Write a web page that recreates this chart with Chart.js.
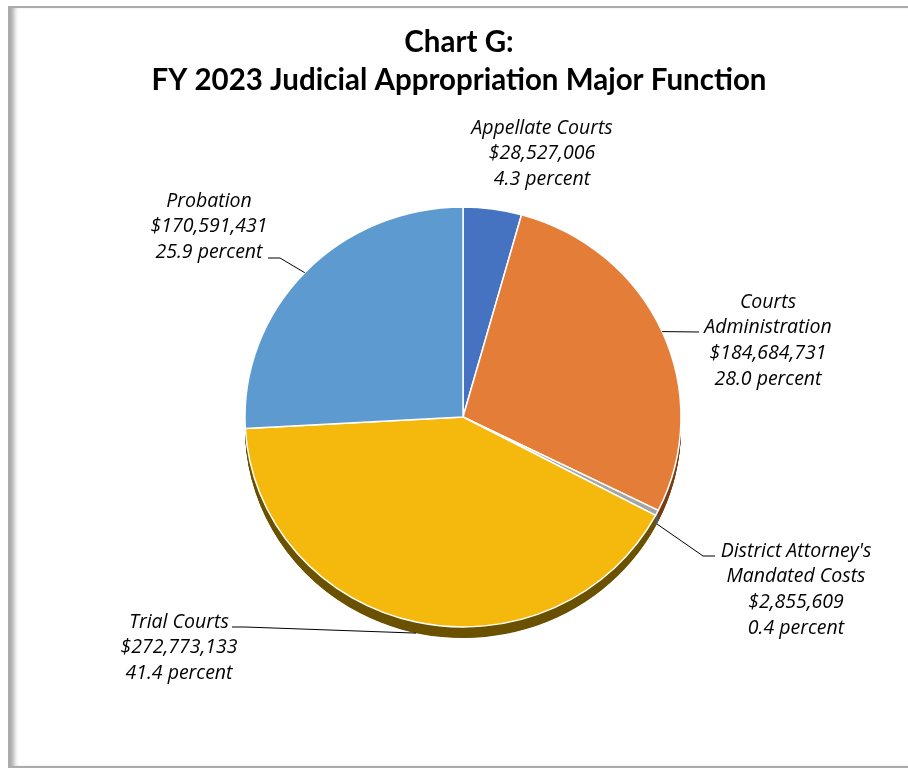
<!DOCTYPE html>
<html>
<head>
<meta charset="utf-8">
<title>Chart G</title>
<script src="https://cdn.jsdelivr.net/npm/chart.js@4.4.0/dist/chart.umd.min.js"></script>
<style>
  html, body { margin: 0; padding: 0; background: #fff; }
  #wrap { position: relative; width: 908px; height: 771px; overflow: hidden; }
  #frame {
    position: absolute; left: 8px; top: 6px; width: 1000px; height: 758px;
    border: 2px solid #ababab;
    box-shadow: inset 7px 0 5px -3px rgba(0, 0, 0, 0.35);
  }
  #mycanvas { position: absolute; left: 0; top: 0; }
</style>
</head>
<body>
<div id="wrap">
  <div id="frame"></div>
  <canvas id="mycanvas" width="908" height="771"></canvas>
</div>
<script>
// FY 2023 judicial appropriation by major function
var functions = ['Appellate Courts', 'Courts Administration', "District Attorney's Mandated Costs", 'Trial Courts', 'Probation'];
var nameLines = [['Appellate Courts'], ['Courts', 'Administration'], ["District Attorney's", 'Mandated Costs'], ['Trial Courts'], ['Probation']];
var amounts = [28527006, 184684731, 2855609, 272773133, 170591431];

var titleLines = ['Chart G:', 'FY 2023 Judicial Appropriation Major Function'];

var sliceColors = ['#4672c2', '#e37d37', '#a5a5a5', '#f4b90c', '#5d9ad0'];
var sideColors = ['#23396a', '#7a3d14', '#5a5a5a', '#6b5200', '#2e4d6a'];

// label block centre (x, y of first line) and leader polyline start points
var labelPos = [
  { x: 542, y: 128, leader: null },
  { x: 768, y: 302, leader: [[699, 332]] },
  { x: 796, y: 551, leader: [[715, 556], [703, 556]] },
  { x: 179, y: 622, leader: [[232, 627], [245, 627]] },
  { x: 209, y: 201, leader: [[268, 258], [280, 258]] }
];

var tilt = 0.963;   // vertical squash of the pie top
var depth = 11.5;   // side thickness before squash
var total = amounts.reduce(function(a, b) { return a + b; }, 0);

function money(v) {
  return '$' + v.toLocaleString('en-US');
}

var pieDepth = {
  id: 'pieDepth',
  beforeDatasetsDraw: function(chart) {
    var ctx = chart.ctx;
    var meta = chart.getDatasetMeta(0);
    var c = meta.data[0].getProps(['x', 'y']);
    ctx.save();
    ctx.translate(c.x, c.y);
    ctx.scale(1, tilt);
    ctx.translate(-c.x, -c.y);
    meta.data.forEach(function(arc, i) {
      var p = arc.getProps(['x', 'y', 'startAngle', 'endAngle', 'outerRadius']);
      ctx.fillStyle = sideColors[i];
      for (var d = depth; d > 0; d -= 0.5) {
        ctx.beginPath();
        ctx.moveTo(p.x, p.y + d);
        ctx.arc(p.x, p.y + d, p.outerRadius, p.startAngle, p.endAngle);
        ctx.closePath();
        ctx.fill();
      }
    });
    // keep the squash for the slices, undone after they are drawn
  },
  afterDatasetsDraw: function(chart) {
    chart.ctx.restore();
  }
};

var pieLabels = {
  id: 'pieLabels',
  afterDraw: function(chart) {
    var ctx = chart.ctx;
    var meta = chart.getDatasetMeta(0);
    ctx.save();

    // title
    ctx.fillStyle = '#000';
    ctx.textAlign = 'center';
    ctx.textBaseline = 'middle';
    ctx.font = 'bold 29.5px Lato';
    titleLines.forEach(function(t, k) {
      ctx.fillText(t, 459, 42 + k * 38);
    });

    meta.data.forEach(function(arc, i) {
      var p = arc.getProps(['x', 'y', 'startAngle', 'endAngle', 'outerRadius']);
      var mid = (p.startAngle + p.endAngle) / 2;
      var ex = p.x + p.outerRadius * Math.cos(mid);
      var ey = p.y + p.outerRadius * Math.sin(mid) * tilt;
      if (Math.sin(mid) > 0) ey += depth * tilt;

      var lp = labelPos[i];
      if (lp.leader) {
        ctx.strokeStyle = '#000';
        ctx.lineWidth = 1;
        ctx.beginPath();
        ctx.moveTo(lp.leader[0][0], lp.leader[0][1]);
        for (var k = 1; k < lp.leader.length; k++) ctx.lineTo(lp.leader[k][0], lp.leader[k][1]);
        ctx.lineTo(ex, ey);
        ctx.stroke();
      }

      var pct = (amounts[i] / total * 100).toFixed(1) + ' percent';
      var lines = nameLines[i].concat([money(amounts[i]), pct]);
      ctx.font = 'italic 19.5px "Open Sans"';
      ctx.fillStyle = '#000';
      lines.forEach(function(t, k) {
        ctx.fillText(t, lp.x, lp.y + k * 25.7);
      });
    });
    ctx.restore();
  }
};

var ctx = document.getElementById('mycanvas');

var pieChart = new Chart(ctx, {
  type: 'pie',
  data: {
    labels: functions,
    datasets: [{
      data: amounts,
      backgroundColor: sliceColors,
      borderColor: '#ffffff',
      borderWidth: 1.5
    }]
  },
  options: {
    responsive: false,
    animation: false,
    events: [],
    radius: 218,
    layout: { padding: { left: 40, right: 22, top: 104, bottom: 41 } },
    plugins: {
      legend: { display: false },
      tooltip: { enabled: false },
      title: { display: false }
    }
  },
  plugins: [pieDepth, pieLabels]
});
</script>
</body>
</html>
